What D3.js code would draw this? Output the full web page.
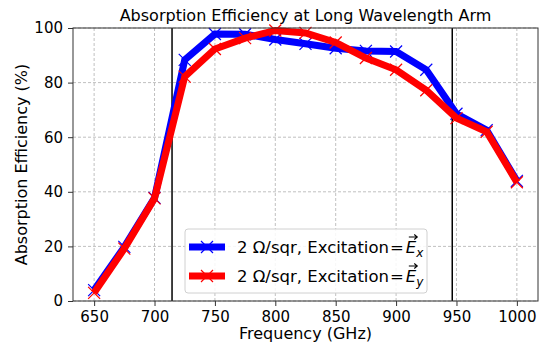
<!DOCTYPE html>
<html>
<head>
<meta charset="utf-8">
<script src="https://cdn.jsdelivr.net/npm/d3@7"></script>
<style>
  body { margin: 0; background: #fff; }
  text { font-family: "DejaVu Sans", sans-serif; fill: #000; }
</style>
</head>
<body>
<svg id="chart" width="548" height="348"></svg>
<script>
'use strict';

var freq   = [650, 675, 700, 725, 750, 775, 800, 825, 850, 875, 900, 925, 950, 975, 1000]
  , effX   = [4.0, 19.8, 37.8, 88.3, 97.8, 97.7, 95.8, 94.2, 92.6, 91.6, 91.4, 84.7, 68.6, 62.6, 44.0]
  , effY   = [3.0, 19.2, 37.6, 82.2, 92.3, 96.3, 99.1, 98.2, 94.7, 89.0, 84.7, 77.2, 67.0, 62.0, 43.5]
  , xTicks = [650, 700, 750, 800, 850, 900, 950, 1000]
  , yTicks = [0, 20, 40, 60, 80, 100]
  , armEdges = [714.5, 946.5]
  , series = [
      { sub: 'x', color: '#0000ff', values: effX },
      { sub: 'y', color: '#ff0000', values: effY }
    ];

var svg = d3.select('#chart')
  , margin = { top: 28, right: 10, bottom: 47, left: 73 }
  , W = 548 - margin.left - margin.right
  , H = 348 - margin.top - margin.bottom;

var x = d3.scaleLinear().domain([632.5, 1017.5]).range([0, W])
  , y = d3.scaleLinear().domain([0, 100]).range([H, 0]);

var g = svg.append('g').attr('transform', 'translate(' + margin.left + ',' + margin.top + ')');

// grid
g.append('g').selectAll('line').data(xTicks).join('line')
  .attr('x1', function(d){ return x(d); }).attr('x2', function(d){ return x(d); })
  .attr('y1', 0).attr('y2', H)
  .attr('stroke', '#b0b0b0').attr('stroke-width', 0.8).attr('stroke-dasharray', '3,2');
g.append('g').selectAll('line').data(yTicks).join('line')
  .attr('y1', function(d){ return y(d); }).attr('y2', function(d){ return y(d); })
  .attr('x1', 0).attr('x2', W)
  .attr('stroke', '#b0b0b0').attr('stroke-width', 0.8).attr('stroke-dasharray', '3,2');

// arm edges
g.append('g').selectAll('line').data(armEdges).join('line')
  .attr('x1', function(d){ return x(d); }).attr('x2', function(d){ return x(d); })
  .attr('y1', 0).attr('y2', H)
  .attr('stroke', '#000').attr('stroke-width', 1.5);

// lines + markers
var line = d3.line()
  .x(function(d, i){ return x(freq[i]); })
  .y(function(d){ return y(d); });

function cross(sel, cx, cy, r, color){
  sel.append('path')
    .attr('d', 'M' + (cx - r) + ',' + (cy - r) + 'L' + (cx + r) + ',' + (cy + r) +
               'M' + (cx - r) + ',' + (cy + r) + 'L' + (cx + r) + ',' + (cy - r))
    .attr('stroke', color).attr('stroke-width', 1.2).attr('fill', 'none');
}

series.forEach(function(s){
  var sg = g.append('g');
  sg.append('path')
    .attr('d', line(s.values))
    .attr('fill', 'none')
    .attr('stroke', s.color)
    .attr('stroke-width', 7)
    .attr('stroke-linejoin', 'miter');
  s.values.forEach(function(v, i){
    cross(sg, x(freq[i]), y(v), 6, s.color);
  });
});

// axes
var xAxis = g.append('g').attr('transform', 'translate(0,' + H + ')')
  .call(d3.axisBottom(x).tickValues(xTicks).tickSize(5).tickPadding(5).tickFormat(d3.format('d')));
var yAxis = g.append('g')
  .call(d3.axisLeft(y).tickValues(yTicks).tickSize(5).tickPadding(5));
[xAxis, yAxis].forEach(function(a){
  a.select('.domain').remove();
  a.selectAll('line').attr('stroke', '#333').attr('stroke-width', 1);
  a.selectAll('text').style('font-size', '15px').style('font-family', '"DejaVu Sans", sans-serif').attr('fill', '#000');
});

// frame
g.append('rect').attr('width', W).attr('height', H)
  .attr('fill', 'none').attr('stroke', '#333').attr('stroke-width', 1);

// legend
var lg = svg.append('g').attr('transform', 'translate(185,229)');
lg.append('rect').attr('width', 242).attr('height', 64).attr('rx', 3)
  .attr('fill', 'rgba(255,255,255,0.85)').attr('stroke', '#d0d0d0').attr('stroke-width', 1);
series.forEach(function(s, i){
  var ly = 18 + i * 29
    , base = ly + 6
    , fs = '16.5px';
  lg.append('line').attr('x1', 4).attr('x2', 40).attr('y1', ly).attr('y2', ly)
    .attr('stroke', s.color).attr('stroke-width', 7);
  cross(lg, 22, ly, 6, s.color);

  var t = lg.append('text').attr('x', 52).attr('y', base).style('font-size', fs)
    .text('2 \u03a9/sqr, Excitation');
  var eqx = 52 + t.node().getComputedTextLength() + 1;
  var eq = lg.append('text').attr('x', eqx).attr('y', base).style('font-size', fs).text('=');
  var ex = eqx + eq.node().getComputedTextLength() + 2;
  var e = lg.append('text').attr('x', ex).attr('y', base).style('font-size', fs)
    .style('font-style', 'italic').text('E');
  var ew = e.node().getComputedTextLength();
  // vector arrow over E
  var ay = base - 16, ax0 = ex + 3, ax1 = ex + ew + 1;
  lg.append('path')
    .attr('d', 'M' + ax0 + ',' + ay + 'L' + ax1 + ',' + ay +
               'M' + (ax1 - 3) + ',' + (ay - 2.5) + 'L' + ax1 + ',' + ay + 'L' + (ax1 - 3) + ',' + (ay + 2.5))
    .attr('stroke', '#000').attr('stroke-width', 1.1).attr('fill', 'none');
  lg.append('text').attr('x', ex + ew).attr('y', base + 4).style('font-size', '12px')
    .style('font-style', 'italic').text(s.sub);
});

// titles
svg.append('text').attr('x', margin.left + W / 2).attr('y', 21)
  .attr('text-anchor', 'middle').style('font-size', '16px')
  .text('Absorption Efficiency at Long Wavelength Arm');
svg.append('text').attr('x', margin.left + W / 2).attr('y', 339)
  .attr('text-anchor', 'middle').style('font-size', '16px')
  .text('Frequency (GHz)');
svg.append('text')
  .attr('transform', 'translate(27,' + (margin.top + H / 2) + ') rotate(-90)')
  .attr('text-anchor', 'middle').style('font-size', '16px')
  .text('Absorption Efficiency (%)');
</script>
</body>
</html>
